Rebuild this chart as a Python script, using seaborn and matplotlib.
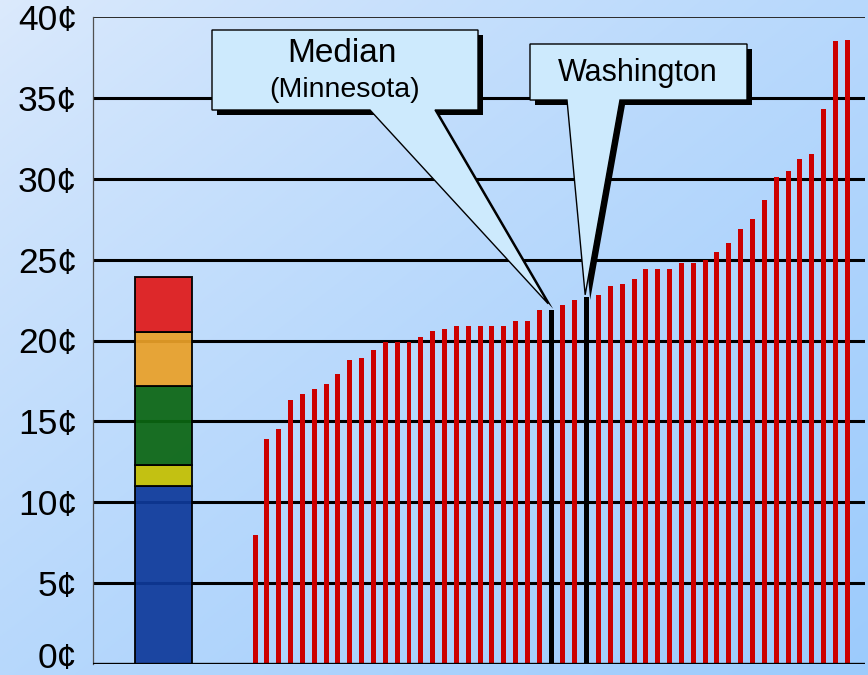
import numpy as np
import pandas as pd
import matplotlib
matplotlib.use("Agg")
import matplotlib.pyplot as plt
from matplotlib.patches import Polygon
from matplotlib.transforms import IdentityTransform, ScaledTranslation
import seaborn as sns

# Gasoline tax per state, cents per gallon, sorted ascending (50 states + DC)
state_tax_cents = [
    8.0, 13.9, 14.5, 16.3, 16.7, 17.0, 17.3, 17.9, 18.8, 18.9,
    19.4, 19.9, 19.9, 19.9, 20.2, 20.6, 20.7, 20.9, 20.9, 20.9,
    20.9, 20.9, 21.2, 21.2, 21.9, 21.9, 22.2, 22.5, 22.7, 22.8,
    23.4, 23.5, 23.8, 24.4, 24.4, 24.4, 24.8, 24.8, 25.0, 25.5,
    26.0, 26.9, 27.5, 28.7, 30.1, 30.5, 31.2, 31.5, 34.3, 38.5,
    38.6,
]
median_label = ["Median", "(Minnesota)"]
median_rank = 25
highlight_label = "Washington"
highlight_rank = 28

# Components of the composite bar, bottom to top
component_cents = [11.0, 1.3, 4.9, 3.3, 3.4]
component_colors = ["#0f3a9a", "#c4c000", "#0b6612", "#eaa028", "#e01a1a"]

tick_values = [0, 5, 10, 15, 20, 25, 30, 35, 40]
tick_labels = [f"{v}\u00a2" for v in tick_values]

sns.set_style("white")
plt.rcParams["font.family"] = ["Liberation Sans", "DejaVu Sans"]
plt.rcParams["text.color"] = "black"
plt.rcParams["ytick.color"] = "black"

W, H = 868, 675
fig = plt.figure(figsize=(W / 100, H / 100), dpi=100)

# Diagonal light-blue gradient backdrop
bg = fig.add_axes([0, 0, 1, 1], zorder=0)
yy, xx = np.mgrid[0:1:300j, 0:1:300j]
t = np.clip(xx * 0.5 + yy * 0.5, 0, 1) ** 0.8
c0 = np.array([220, 234, 252]) / 255
c1 = np.array([156, 203, 252]) / 255
bg.imshow(c0 + (c1 - c0) * t[..., None], aspect="auto", extent=[0, 1, 0, 1],
          origin="upper", interpolation="bilinear")
bg.axis("off")

ax = fig.add_axes([93 / W, 1 - 664 / H, (865 - 93) / W, (664 - 17) / H], zorder=1)
ax.patch.set_alpha(0)

# State bars
rank = np.arange(len(state_tax_cents))
kind = np.where(np.isin(rank, [median_rank, highlight_rank]), "marked", "state")
df = pd.DataFrame({"rank": rank, "cents": state_tax_cents, "kind": kind})
sns.barplot(data=df, x="rank", y="cents", hue="kind",
            palette={"state": "#cc0000", "marked": "#000000"},
            native_scale=True, dodge=False, width=0.42, saturation=1,
            errorbar=None, legend=False, linewidth=0, ax=ax, zorder=3)

# Composite stacked bar
comp_x = -7.73
bottoms = np.concatenate([[0], np.cumsum(component_cents)[:-1]])
ax.bar(np.full(len(component_cents), comp_x), component_cents, bottom=bottoms,
       width=4.8, color=component_colors, edgecolor="black", linewidth=1.4,
       alpha=0.93, zorder=3)

ax.set_xlim(-13.68, 51.5)
ax.set_ylim(0, 40)
ax.set_xticks([])
ax.set_xlabel("")
ax.set_ylabel("")
ax.set_yticks(tick_values)
ax.set_yticklabels(tick_labels)
ax.tick_params(axis="y", length=0, pad=11.5, labelsize=25.5, labelcolor="black")
# lift the bottom label a little so it stays inside the canvas
zero_label = ax.get_yticklabels()[0]
zero_label.set_transform(zero_label.get_transform()
                         + ScaledTranslation(0, 9 / 100, fig.dpi_scale_trans))

for v in tick_values[1:-1]:
    ax.axhline(v, color="black", lw=2.2, zorder=2)
ax.axhline(0, color="black", lw=2.4, zorder=4)
ax.axhline(40, color="#2a2a2a", lw=1.4, zorder=2)
for s in ["top", "right", "bottom"]:
    ax.spines[s].set_visible(False)
ax.spines["left"].set_color("#505050")
ax.spines["left"].set_linewidth(0.9)


def callout(box, base, tip_data, tip_offset):
    x0, y0, x1, y1 = box
    bx0, bx1 = base
    tx, ty = ax.transData.transform(tip_data)
    tx += tip_offset[0]
    ty += tip_offset[1]
    pts = [(x0, H - y0), (x1, H - y0), (x1, H - y1), (bx1, H - y1),
           (tx, ty), (bx0, H - y1), (x0, H - y1)]
    shadow = [(px + 5, py - 5) for px, py in pts]
    ax.add_patch(Polygon(shadow, closed=True, facecolor="black", edgecolor="none",
                         transform=IdentityTransform(), clip_on=False, zorder=5))
    ax.add_patch(Polygon(pts, closed=True, facecolor="#cdeafd", edgecolor="black",
                         linewidth=1.0, transform=IdentityTransform(),
                         clip_on=False, zorder=6))


callout((212, 30, 478, 110), (370, 435),
        (median_rank, state_tax_cents[median_rank]), (-3, 6))
callout((530, 44, 747, 100), (567, 620),
        (highlight_rank, state_tax_cents[highlight_rank]), (-1.5, 2))

fig.text(342 / W, 1 - 54 / H, median_label[0], ha="center", va="center",
         fontsize=24, color="black", zorder=10)
fig.text(345 / W, 1 - 90 / H, median_label[1], ha="center", va="center",
         fontsize=20.5, color="black", zorder=10)
fig.text(638 / W, 1 - 73 / H, highlight_label, ha="center", va="center",
         fontsize=22, color="black", zorder=10)

fig.savefig("out.png", dpi=100)
